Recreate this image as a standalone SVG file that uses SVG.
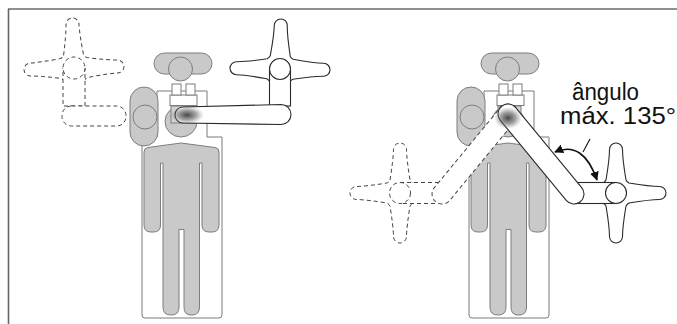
<svg xmlns="http://www.w3.org/2000/svg" xmlns:xlink="http://www.w3.org/1999/xlink" width="677" height="324" viewBox="0 0 677 324">
  <style>
    .frame { fill: none; stroke: #222; stroke-width: 1.2; }
    .frame-side { fill: none; stroke: #666; stroke-width: 1.6; }
    .bed { fill: #fff; stroke: #7a7a7a; stroke-width: 1; }
    .grey { fill: #c9c9c9; stroke: #7d7d7d; stroke-width: 1; }
    .light { fill: #fff; stroke: #7d7d7d; stroke-width: 1; }
    .solid { fill: #fff; stroke: #2a2a2a; stroke-width: 1.1; }
    .dashed { fill: #fff; stroke: #444; stroke-width: 1; stroke-dasharray: 4 3; }
    .arc { fill: none; stroke: #111; stroke-width: 1.7; }
    .lead { fill: none; stroke: #111; stroke-width: 1.1; }
    .label { font-family: "Liberation Sans", Arial, sans-serif; font-size: 23px; fill: #111; }
  </style>
  <defs>
    <!-- four-armed lamp head, centred on 0,0 -->
    <path id="lamp" d="M -10,-13 C -8,-25 -6.5,-38 -6.5,-43.5 A 6.5 6.5 0 0 1 6.5,-43.5 C 6.5,-38 8,-25 10,-13 Q 11,-11 13,-10 C 25,-8 38,-6.5 43.5,-6.5 A 6.5 6.5 0 0 1 43.5,6.5 C 38,6.5 25,8 13,10 Q 11,11 10,13 C 8,25 6.5,38 6.5,43.5 A 6.5 6.5 0 0 1 -6.5,43.5 C -6.5,38 -8,25 -10,13 Q -11,11 -13,10 C -25,8 -38,6.5 -43.5,6.5 A 6.5 6.5 0 0 1 -43.5,-6.5 C -38,-6.5 -25,-8 -13,-10 Q -11,-11 -10,-13 Z"/>
    <radialGradient id="shade" cx="0.5" cy="0.5" r="0.5">
      <stop offset="0" stop-color="#3c3c3c" stop-opacity="0.95"/>
      <stop offset="0.55" stop-color="#5a5a5a" stop-opacity="0.55"/>
      <stop offset="1" stop-color="#888" stop-opacity="0"/>
    </radialGradient>
    <marker id="arrow" viewBox="0 0 10 10" refX="9" refY="5" markerWidth="9" markerHeight="9" markerUnits="userSpaceOnUse" orient="auto-start-reverse">
      <path d="M0,0 L10,5 L0,10 Z" fill="#111"/>
    </marker>
    <!-- patient lying on the table, seen from above -->
    <g id="patient">
      <path class="bed" d="M157,91 H207 V137 H222 V315 Q222,318 219,318 H145 Q142,318 142,315 V137 H157 Z"/>
      <rect class="grey" x="154" y="53" width="58" height="21" rx="10.5"/>
      <circle class="grey" cx="180.5" cy="69" r="12"/>
      <path class="grey" d="M144,152 Q144,148 148,147.5 L181,143 L215,147.5 Q219,148 219,152 L219,225 Q219,232 212,232 L209,232 Q202,232 202,225 L202,163 L199.5,163 L199.5,307 Q199.5,315 192,315 L191,315 Q184,315 184,307 L184,229.5 L179,229.5 L179,307 Q179,315 171.5,315 L170.5,315 Q163,315 163,307 L163,163 L160.5,163 L160.5,225 Q160.5,232 153.5,232 L151,232 Q144,232 144,225 Z"/>
      <ellipse class="grey" cx="181" cy="121.5" rx="16" ry="15.5"/>
      <rect x="171" y="106" width="23" height="17" fill="#d4d4d4" stroke="#7d7d7d" stroke-width="1"/>
      <rect class="light" x="170" y="95" width="27" height="10.5"/>
      <rect class="light" x="172" y="84" width="9" height="11"/>
      <rect class="light" x="186" y="84" width="9" height="11"/>
    </g>
    <g id="assistant">
      <rect class="grey" x="0" y="0" width="28" height="59" rx="14"/>
      <circle class="grey" cx="15" cy="30" r="12"/>
    </g>
  </defs>

  <!-- page frame -->
  <g id="frame">
    <line class="frame" x1="8" y1="9" x2="677" y2="9"/>
    <line class="frame-side" x1="8.5" y1="9" x2="8.5" y2="324"/>
  </g>

  <!-- table with the lamp arm swung sideways -->
  <g id="scene-side">
    <use href="#patient"/>
    <use href="#assistant" x="130" y="87"/>
    <g id="lamp-side-alt">
      <use href="#lamp" class="dashed" transform="translate(74,68) rotate(-2)"/>
      <rect class="dashed" x="63" y="68" width="22" height="38"/>
      <circle class="dashed" cx="74" cy="68" r="11"/>
      <rect class="dashed" x="62" y="106" width="64" height="20" rx="9.5"/>
    </g>
    <g id="lamp-side">
      <use href="#lamp" class="solid" transform="translate(280,69) rotate(1)"/>
      <rect class="solid" x="269.5" y="69" width="21" height="37"/>
      <circle class="solid" cx="280" cy="69" r="10.5"/>
      <path class="solid" d="M183,107 L281,104.5 A10,10 0 0 1 281,124.5 L183,123 A8,8 0 0 1 183,107 Z"/>
      <ellipse cx="187" cy="115" rx="17" ry="9" fill="url(#shade)"/>
    </g>
  </g>

  <!-- table with the lamp arm angled over the feet -->
  <g id="scene-angled">
    <use href="#patient" x="327"/>
    <use href="#assistant" x="457" y="87"/>
    <use href="#assistant" x="532" y="87" transform="translate(1091,0) scale(-1,1) translate(-1091,0)"/>
    <g id="lamp-angled-alt">
      <use href="#lamp" class="dashed" transform="translate(400,193)"/>
      <rect class="dashed" x="400" y="182.5" width="42" height="21"/>
      <circle class="dashed" cx="400" cy="193" r="10.5"/>
      <rect class="dashed" x="-10" y="-10" width="123.7" height="20" rx="10" transform="translate(508,114) rotate(129.5)"/>
    </g>
    <g id="lamp-angled">
      <use href="#lamp" class="solid" transform="translate(616,193)"/>
      <rect class="solid" x="574" y="182.5" width="42" height="21"/>
      <circle class="solid" cx="616" cy="193" r="10.5"/>
      <rect class="solid" x="-10" y="-10" width="123.7" height="20" rx="10" transform="translate(508,114) rotate(50.5)"/>
      <ellipse cx="508" cy="118" rx="14" ry="11" fill="url(#shade)"/>
    </g>
  </g>

  <!-- angle dimension -->
  <g id="connectors">
    <path class="arc" d="M555,152 Q583,140 597,180" marker-start="url(#arrow)" marker-end="url(#arrow)"/>
    <line class="lead" x1="583" y1="152" x2="590" y2="139"/>
  </g>

  <g id="angle-label">
    <text class="label" x="572" y="100" textLength="67" lengthAdjust="spacingAndGlyphs">ângulo</text>
    <text class="label" x="560" y="124" textLength="116" lengthAdjust="spacingAndGlyphs">máx. 135°</text>
  </g>
</svg>
